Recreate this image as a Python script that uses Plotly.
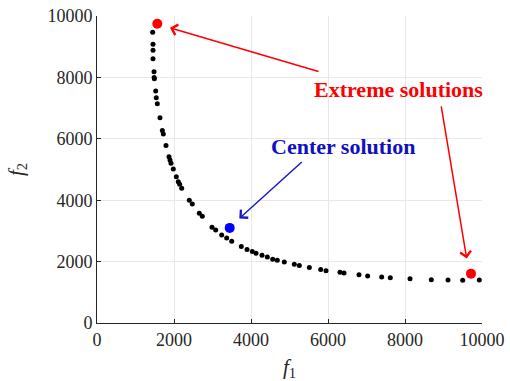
import plotly.graph_objects as go

# Pareto front points (f1, f2)
f1 = [1446, 1455, 1455, 1455, 1481, 1485, 1490, 1524, 1540, 1567, 1636, 1697, 1723,
      1792, 1870, 1896, 1922, 1982, 2060, 2112, 2147, 2200, 2397, 2475, 2657, 2735,
      2987, 3083, 3239, 3368, 3499, 3748, 3896, 4034, 4130, 4286, 4424, 4563, 4683,
      4865, 5125, 5255, 5515, 5810, 5948, 6312, 6416, 6805, 7030, 7395, 7618, 8130,
      8683, 9117, 9499, 9930]
f2 = [9471, 9078, 8882, 8611, 8186, 8000, 7958, 7555, 7337, 7140, 6683, 6268, 6160,
      5778, 5418, 5310, 5203, 5016, 4765, 4601, 4516, 4386, 4000, 3873, 3578, 3480,
      3121, 3033, 2869, 2771, 2663, 2490, 2392, 2327, 2271, 2206, 2150, 2075, 2042,
      1987, 1912, 1869, 1804, 1739, 1706, 1650, 1627, 1575, 1529, 1497, 1477, 1444,
      1412, 1399, 1389, 1399]

extreme_f1 = [1566, 9714]
extreme_f2 = [9745, 1608]
center_f1 = [3447]
center_f2 = [3098]

tick_vals = [0, 2000, 4000, 6000, 8000, 10000]
tick_text = ["0", "2000", "4000", "6000", "8000", "10000"]

FONT = '"Liberation Serif", "Times New Roman", serif'
AX = "#262626"

fig = go.Figure()
fig.add_trace(go.Scatter(x=f1, y=f2, mode="markers",
                         marker=dict(color="black", size=5), showlegend=False))
fig.add_trace(go.Scatter(x=extreme_f1, y=extreme_f2, mode="markers",
                         marker=dict(color="#ff0000", size=10), showlegend=False))
fig.add_trace(go.Scatter(x=center_f1, y=center_f2, mode="markers",
                         marker=dict(color="#0000ff", size=10), showlegend=False))

arrow_common = dict(xref="x", yref="y", axref="x", ayref="y", showarrow=True,
                    arrowhead=4, arrowsize=1.4, arrowwidth=1.5, standoff=0, text="")
fig.add_annotation(x=1896, y=9614, ax=5792, ay=8176, arrowcolor="#ff0000", **arrow_common)
fig.add_annotation(x=9603, y=2098, ax=8935, ay=7108, arrowcolor="#ff0000", **arrow_common)
fig.add_annotation(x=3696, y=3405, ax=5358, ay=5288, arrowcolor="#1a1acc", **arrow_common)

fig.add_annotation(x=7844, y=7598, xref="x", yref="y", showarrow=False,
                   text="<b>Extreme solutions</b>",
                   font=dict(family=FONT, size=22, color="#ff0000"))
fig.add_annotation(x=6395, y=5745, xref="x", yref="y", showarrow=False,
                   text="<b>Center solution</b>",
                   font=dict(family=FONT, size=22, color="#1010c0"))


def axis_style(title_text, standoff):
    return dict(range=[0, 10000], tickvals=tick_vals, ticktext=tick_text,
                showgrid=True, gridcolor="#e8e8e8", gridwidth=1,
                showline=True, linecolor=AX, linewidth=1,
                ticks="inside", ticklen=4, tickcolor=AX,
                zeroline=False, automargin=False,
                tickfont=dict(family=FONT, size=18, color=AX),
                title=dict(text=title_text,
                           font=dict(family=FONT, size=21, color=AX),
                           standoff=standoff))


fig.update_layout(
    width=510, height=381,
    margin=dict(l=97, r=28, t=16, b=58),
    paper_bgcolor="white", plot_bgcolor="white",
    font=dict(family=FONT, color=AX),
    xaxis=axis_style("<i>f</i><sub>1</sub>", 11),
    yaxis=axis_style("<i>f</i><sub>2</sub>", 18),
)

fig.write_html("out.html")
